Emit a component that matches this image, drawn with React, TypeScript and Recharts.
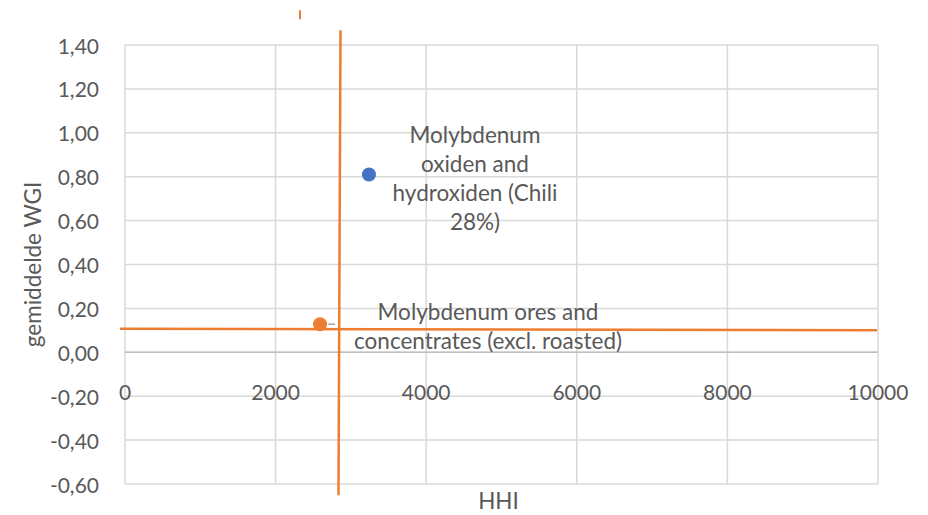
import * as React from 'react';
import {
  ScatterChart,
  Scatter,
  XAxis,
  YAxis,
  CartesianGrid,
  ReferenceLine,
  Label,
} from 'recharts';

// data points (HHI vs gemiddelde WGI)
const products = ['Molybdenum oxiden and hydroxiden (Chili 28%)', 'Molybdenum ores and concentrates (excl. roasted)'];
const hhiValues = [3240, 2590];
const wgiValues = [0.81, 0.128];
const pointColors = ['#4472C4', '#ED7D31'];
const labelLines = [
  ['Molybdenum', 'oxiden and', 'hydroxiden (Chili', '28%)'],
  ['Molybdenum ores and', 'concentrates (excl. roasted)'],
];

// axis ticks
const xTicks = [0, 2000, 4000, 6000, 8000, 10000];
const yTicks = [-0.6, -0.4, -0.2, 0, 0.2, 0.4, 0.6, 0.8, 1.0, 1.2, 1.4];

// orange threshold lines (drawn shapes in the original)
const vLine = [{ x: 2862, y: 1.467 }, { x: 2835, y: -0.651 }];
const hLine = [{ x: -66, y: 0.107 }, { x: 9987, y: 0.1 }];
const smallTick = [{ x: 2324, y: 1.558 }, { x: 2324, y: 1.517 }];

const W = 928;
const H = 515;
const MARGIN = { top: 45, right: 50, bottom: 0, left: 0 };
const X_AXIS_H = 31;
const Y_AXIS_W = 125;
const FONT = 'Lato, "Open Sans", sans-serif';
const TEXT = '#595959';
const ORANGE = '#ED7D31';
const TICK_SIZE = 21;
const LABEL_SIZE = 22.5;

const plotH = H - MARGIN.top - MARGIN.bottom - X_AXIS_H;
const yMin = yTicks[0];
const yMax = yTicks[yTicks.length - 1];
const zeroFromBottom = (plotH * (0 - yMin)) / (yMax - yMin);

const data = products.map((name, i) => ({
  name,
  x: hhiValues[i],
  y: wgiValues[i],
  color: pointColors[i],
  lines: labelLines[i],
  idx: i,
}));

// label offsets relative to the point
const labelOffsets = [
  { dx: 106, dy: -41 },
  { dx: 168, dy: -13 },
];

const PointShape = (props: any) => {
  const { cx, cy, payload } = props;
  const off = labelOffsets[payload.idx];
  return (
    <g>
      {payload.idx === 1 && (
        <line x1={cx + 8} y1={cy} x2={cx + 15} y2={cy} stroke="#a6a6a6" strokeWidth={1.5} />
      )}
      <circle cx={cx} cy={cy} r={7} fill={payload.color} />
      <text
        x={cx + off.dx}
        y={cy + off.dy}
        textAnchor="middle"
        dominantBaseline="central"
        fontFamily={FONT}
        fontSize={LABEL_SIZE}
        fill={TEXT}
      >
        {payload.lines.map((l: string, i: number) => (
          <tspan key={i} x={cx + off.dx} dy={i === 0 ? 0 : 29}>
            {l}
          </tspan>
        ))}
      </text>
    </g>
  );
};

const XTick = (props: any) => {
  const { x, y, payload } = props;
  return (
    <text
      x={x}
      y={y - zeroFromBottom + 31}
      textAnchor="middle"
      dominantBaseline="central"
      fontFamily={FONT}
      fontSize={TICK_SIZE}
      fill={TEXT}
    >
      {payload.value}
    </text>
  );
};

const YTick = (props: any) => {
  const { x, y, payload } = props;
  return (
    <text
      x={x - 18}
      y={y}
      textAnchor="end"
      dominantBaseline="central"
      fontFamily={FONT}
      fontSize={TICK_SIZE}
      fill={TEXT}
    >
      {payload.value.toFixed(2).replace('.', ',')}
    </text>
  );
};

export default function App(): React.JSX.Element {
  return (
    <div style={{ position: 'absolute', left: 0, top: 0, width: W, height: H, background: '#fff' }}>
      <ScatterChart width={W} height={H} margin={MARGIN}>
        <CartesianGrid stroke="#d9d9d9" strokeWidth={1.5} />
        <XAxis
          type="number"
          dataKey="x"
          domain={[0, 10000]}
          ticks={xTicks}
          axisLine={false}
          tickLine={false}
          height={X_AXIS_H}
          tick={<XTick />}
          interval={0}
        >
          <Label
            content={(p: any) => (
              <text
                x={p.viewBox.x + p.viewBox.width / 2 - 3}
                y={p.viewBox.y + 16}
                textAnchor="middle"
                dominantBaseline="central"
                fontFamily={FONT}
                fontSize={LABEL_SIZE}
                fill={TEXT}
              >
                HHI
              </text>
            )}
          />
        </XAxis>
        <YAxis
          type="number"
          dataKey="y"
          domain={[yMin, yMax]}
          ticks={yTicks}
          axisLine={false}
          tickLine={false}
          width={Y_AXIS_W}
          tick={<YTick />}
          interval={0}
        >
          <Label
            content={(p: any) => {
              const cx = p.viewBox.x + 32;
              const cy = p.viewBox.y + p.viewBox.height / 2;
              return (
                <text
                  x={cx}
                  y={cy}
                  transform={`rotate(-90 ${cx} ${cy})`}
                  textAnchor="middle"
                  dominantBaseline="central"
                  fontFamily={FONT}
                  fontSize={LABEL_SIZE}
                  fill={TEXT}
                >
                  gemiddelde WGI
                </text>
              );
            }}
          />
        </YAxis>
        <ReferenceLine y={0} stroke="#bfbfbf" strokeWidth={1.5} />
        <ReferenceLine segment={hLine} stroke={ORANGE} strokeWidth={2.5} ifOverflow="visible" />
        <ReferenceLine segment={vLine} stroke={ORANGE} strokeWidth={2.5} ifOverflow="visible" />
        <ReferenceLine segment={smallTick} stroke={ORANGE} strokeWidth={2} ifOverflow="visible" />
        <Scatter data={data} shape={<PointShape />} isAnimationActive={false} />
      </ScatterChart>
    </div>
  );
}
